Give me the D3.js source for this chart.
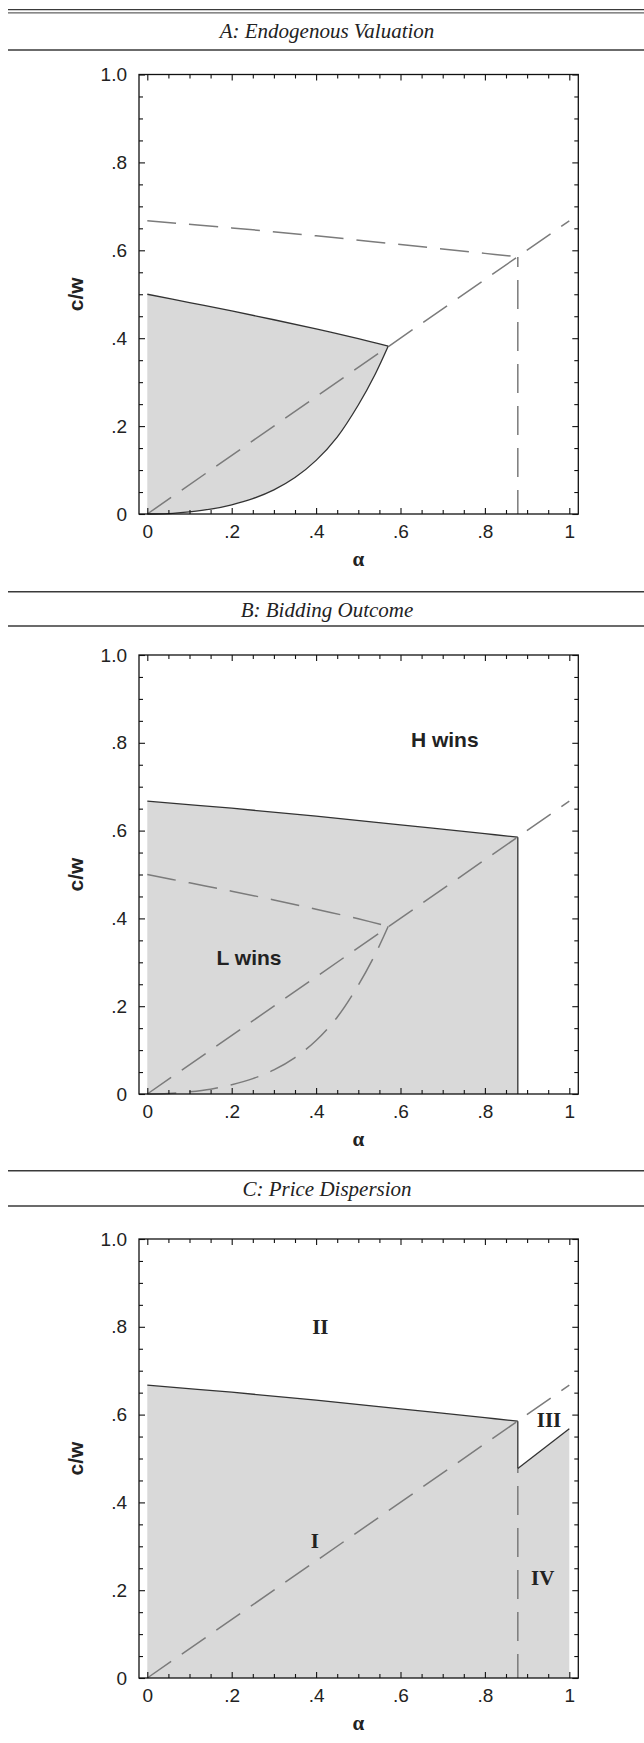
<!DOCTYPE html>
<html><head><meta charset="utf-8">
<script src="https://cdn.jsdelivr.net/npm/d3@7"></script>
<style>body{margin:0;background:#fff}svg{display:block}</style>
</head><body><svg id="c" width="644" height="1743"></svg>
<script>
// ---------- data ----------
const panelTitles = ["A: Endogenous Valuation", "B: Bidding Outcome", "C: Price Dispersion"];
const xTickValues = [0, 0.2, 0.4, 0.6, 0.8, 1];
const xTickLabels = ["0", ".2", ".4", ".6", ".8", "1"];
const yTickValues = [0, 0.2, 0.4, 0.6, 0.8, 1];
const yTickLabels = ["0", ".2", ".4", ".6", ".8", "1.0"];
const minorTickValues = [0,0.05,0.1,0.15,0.2,0.25,0.3,0.35,0.4,0.45,0.5,0.55,0.6,0.65,0.7,0.75,0.8,0.85,0.9,0.95,1];
const xLabel = "α";
const yLabel = "c/w";

// diagonal c/w = 2α/3
const diagAlpha = [0, 1];
const diagCW = [0, 0.667];
// upper boundary (H wins vs L wins)
const topAlpha = [0, 0.2, 0.4, 0.6, 0.8, 0.878];
const topCW = [0.667, 0.651, 0.633, 0.613, 0.593, 0.585];
// endogenous valuation region, upper edge
const upperAlpha = [0, 0.1, 0.2, 0.3, 0.4, 0.5, 0.571];
const upperCW = [0.5, 0.481, 0.462, 0.442, 0.421, 0.399, 0.382];
// endogenous valuation region, lower edge
const lowerAlpha = [0, 0.05, 0.1, 0.15, 0.2, 0.25, 0.3, 0.35, 0.4, 0.45, 0.5, 0.54, 0.571];
const lowerCW = [0, 0.001, 0.005, 0.011, 0.021, 0.035, 0.055, 0.083, 0.122, 0.175, 0.248, 0.318, 0.382];
// cutoff α
const cutoffAlpha = 0.878;
// panel C, boundary of region III / IV
const dispAlpha = [0.878, 1];
const dispCW = [0.477, 0.568];
// text labels
const bLabels = ["H wins", "L wins"];
const bLabelAlpha = [0.705, 0.241];
const bLabelCW = [0.807, 0.31];
const cLabels = ["I", "II", "III", "IV"];
const cLabelAlpha = [0.397, 0.41, 0.952, 0.937];
const cLabelCW = [0.313, 0.80, 0.587, 0.228];

// ---------- layout ----------
const svg = d3.select("#c");
const FILL = "#d9d9d9", DASH = "#7b7b7b", SOLID = "#333", RULE = "#3a3a3a";
const DASHARRAY = "29,13";
const sansFont = "'Liberation Sans', Arial, Helvetica, sans-serif";
const serifFont = "'Liberation Serif', 'Times New Roman', Times, serif";

const x = d3.scaleLinear().domain([0, 1]).range([147.3, 569.3]);
const frameL = 139, frameR = 578.3;

const panels = [
  { y1: 74.5, y0: 514, topRules: [9.6, 12.9], titleBase: 38, ruleBelow: 50 },
  { y1: 655, y0: 1094, topRules: [591.7], titleBase: 616.7, ruleBelow: 626 },
  { y1: 1239, y0: 1678, topRules: [1170.7], titleBase: 1195.5, ruleBelow: 1206 }
];

function pts(a, c) { return a.map((d, i) => [d, c[i]]); }

panels.forEach((p, pi) => {
  const y = d3.scaleLinear().domain([0, 1]).range([p.y0, p.y1]);
  const g = svg.append("g");
  const line = d3.line().x(d => x(d[0])).y(d => y(d[1]));
  const curve = d3.line().x(d => x(d[0])).y(d => y(d[1])).curve(d3.curveCatmullRom.alpha(0.5));
  const cont = s => s.replace(/^M/, "L");

  // header rules and title
  p.topRules.forEach((ry, i) => {
    g.append("line").attr("x1", 8).attr("x2", 644).attr("y1", ry).attr("y2", ry)
      .attr("stroke", RULE).attr("stroke-width", (pi === 0 && i === 1) ? 1 : 1.4);
  });
  g.append("line").attr("x1", 8).attr("x2", 644).attr("y1", p.ruleBelow).attr("y2", p.ruleBelow)
    .attr("stroke", RULE).attr("stroke-width", 1.4);
  g.append("text").attr("x", 327).attr("y", p.titleBase).attr("text-anchor", "middle")
    .attr("font-family", serifFont).attr("font-style", "italic").attr("font-size", 21)
    .attr("fill", "#222").text(panelTitles[pi]);

  const upperP = pts(upperAlpha, upperCW), lowerP = pts(lowerAlpha, lowerCW), topP = pts(topAlpha, topCW);

  // fills
  let fillPath;
  if (pi === 0) {
    fillPath = curve(upperP) + cont(curve(lowerP.slice().reverse())) + "Z";
  } else if (pi === 1) {
    fillPath = line([[0, 0]]) + cont(curve(topP)) + cont(line([[cutoffAlpha, 0]])) + "Z";
  } else {
    fillPath = line([[0, 0]]) + cont(curve(topP)) + cont(line(pts(dispAlpha, dispCW).concat([[1, 0]]))) + "Z";
  }
  g.append("path").attr("d", fillPath).attr("fill", FILL);

  const dashed = (d, off) => g.append("path").attr("d", d).attr("fill", "none")
    .attr("stroke", DASH).attr("stroke-width", 1.5).attr("stroke-dasharray", DASHARRAY)
    .attr("stroke-dashoffset", off || 0);
  const solid = d => g.append("path").attr("d", d).attr("fill", "none")
    .attr("stroke", SOLID).attr("stroke-width", 1.3);

  // dashed lines
  dashed(line(pts(diagAlpha, diagCW)));
  if (pi === 0) {
    dashed(curve(topP));
    dashed(line([[cutoffAlpha, 0], [cutoffAlpha, topCW[topCW.length - 1]]]), 5);
  } else if (pi === 1) {
    dashed(curve(upperP));
    dashed(curve(lowerP));
  } else {
    dashed(line([[cutoffAlpha, 0], [cutoffAlpha, dispCW[0]]]), 5);
  }

  // solid lines
  if (pi === 0) {
    solid(curve(upperP));
    solid(curve(lowerP));
  } else if (pi === 1) {
    solid(curve(topP));
    solid(line([[cutoffAlpha, topCW[topCW.length - 1]], [cutoffAlpha, 0]]));
  } else {
    solid(curve(topP));
    solid(line([[cutoffAlpha, topCW[topCW.length - 1]], [cutoffAlpha, dispCW[0]]]));
    solid(line(pts(dispAlpha, dispCW)));
  }

  // frame
  g.append("rect").attr("x", frameL).attr("y", p.y1).attr("width", frameR - frameL)
    .attr("height", p.y0 - p.y1).attr("fill", "none").attr("stroke", "#111").attr("stroke-width", 1.3);

  const isMajor = v => xTickValues.some(t => Math.abs(t - v) < 1e-6);
  const styleAxis = (ag, horizontal, sign) => {
    ag.select(".domain").remove();
    ag.selectAll(".tick line").attr("stroke", "#111").attr("stroke-width", 1.1)
      .each(function (d) {
        const len = isMajor(d) ? 6 : 4;
        if (horizontal) d3.select(this).attr("y2", sign * len);
        else d3.select(this).attr("x2", sign * len);
      });
    ag.selectAll(".tick text").attr("font-family", sansFont).attr("font-size", 19).attr("fill", "#222");
  };
  const labelFor = (vals, labels) => d => {
    const i = vals.findIndex(t => Math.abs(t - d) < 1e-6);
    return i >= 0 ? labels[i] : "";
  };

  // bottom
  const ab = g.append("g").attr("transform", `translate(0,${p.y0})`)
    .call(d3.axisBottom(x).tickValues(minorTickValues).tickSizeInner(-4).tickSizeOuter(0)
      .tickPadding(11).tickFormat(labelFor(xTickValues, xTickLabels)));
  styleAxis(ab, true, -1);
  // top
  const at = g.append("g").attr("transform", `translate(0,${p.y1})`)
    .call(d3.axisTop(x).tickValues(minorTickValues).tickSizeInner(-4).tickSizeOuter(0).tickFormat(""));
  styleAxis(at, true, 1);
  // left
  const al = g.append("g").attr("transform", `translate(${frameL},0)`)
    .call(d3.axisLeft(y).tickValues(minorTickValues).tickSizeInner(-4).tickSizeOuter(0)
      .tickPadding(12).tickFormat(labelFor(yTickValues, yTickLabels)));
  styleAxis(al, false, 1);
  // right
  const ar = g.append("g").attr("transform", `translate(${frameR},0)`)
    .call(d3.axisRight(y).tickValues(minorTickValues).tickSizeInner(-4).tickSizeOuter(0).tickFormat(""));
  styleAxis(ar, false, -1);

  // axis titles
  g.append("text").attr("x", (x(0) + x(1)) / 2).attr("y", p.y0 + 52).attr("text-anchor", "middle")
    .attr("font-family", serifFont).attr("font-weight", "bold").attr("font-size", 21).attr("fill", "#222")
    .text(xLabel);
  g.append("text").attr("transform", `translate(83,${(p.y0 + p.y1) / 2}) rotate(-90)`)
    .attr("text-anchor", "middle").attr("font-family", sansFont).attr("font-weight", "bold")
    .attr("font-size", 21).attr("fill", "#222").text(yLabel);

  // region labels
  if (pi === 1) {
    bLabels.forEach((t, i) => g.append("text").attr("x", x(bLabelAlpha[i])).attr("y", y(bLabelCW[i]))
      .attr("dy", "0.36em").attr("text-anchor", "middle").attr("font-family", sansFont)
      .attr("font-weight", "bold").attr("font-size", 21).attr("fill", "#222").text(t));
  }
  if (pi === 2) {
    cLabels.forEach((t, i) => g.append("text").attr("x", x(cLabelAlpha[i])).attr("y", y(cLabelCW[i]))
      .attr("dy", "0.34em").attr("text-anchor", "middle").attr("font-family", serifFont)
      .attr("font-weight", "bold").attr("font-size", 21).attr("fill", "#222").text(t));
  }
});
</script>
</body></html>
